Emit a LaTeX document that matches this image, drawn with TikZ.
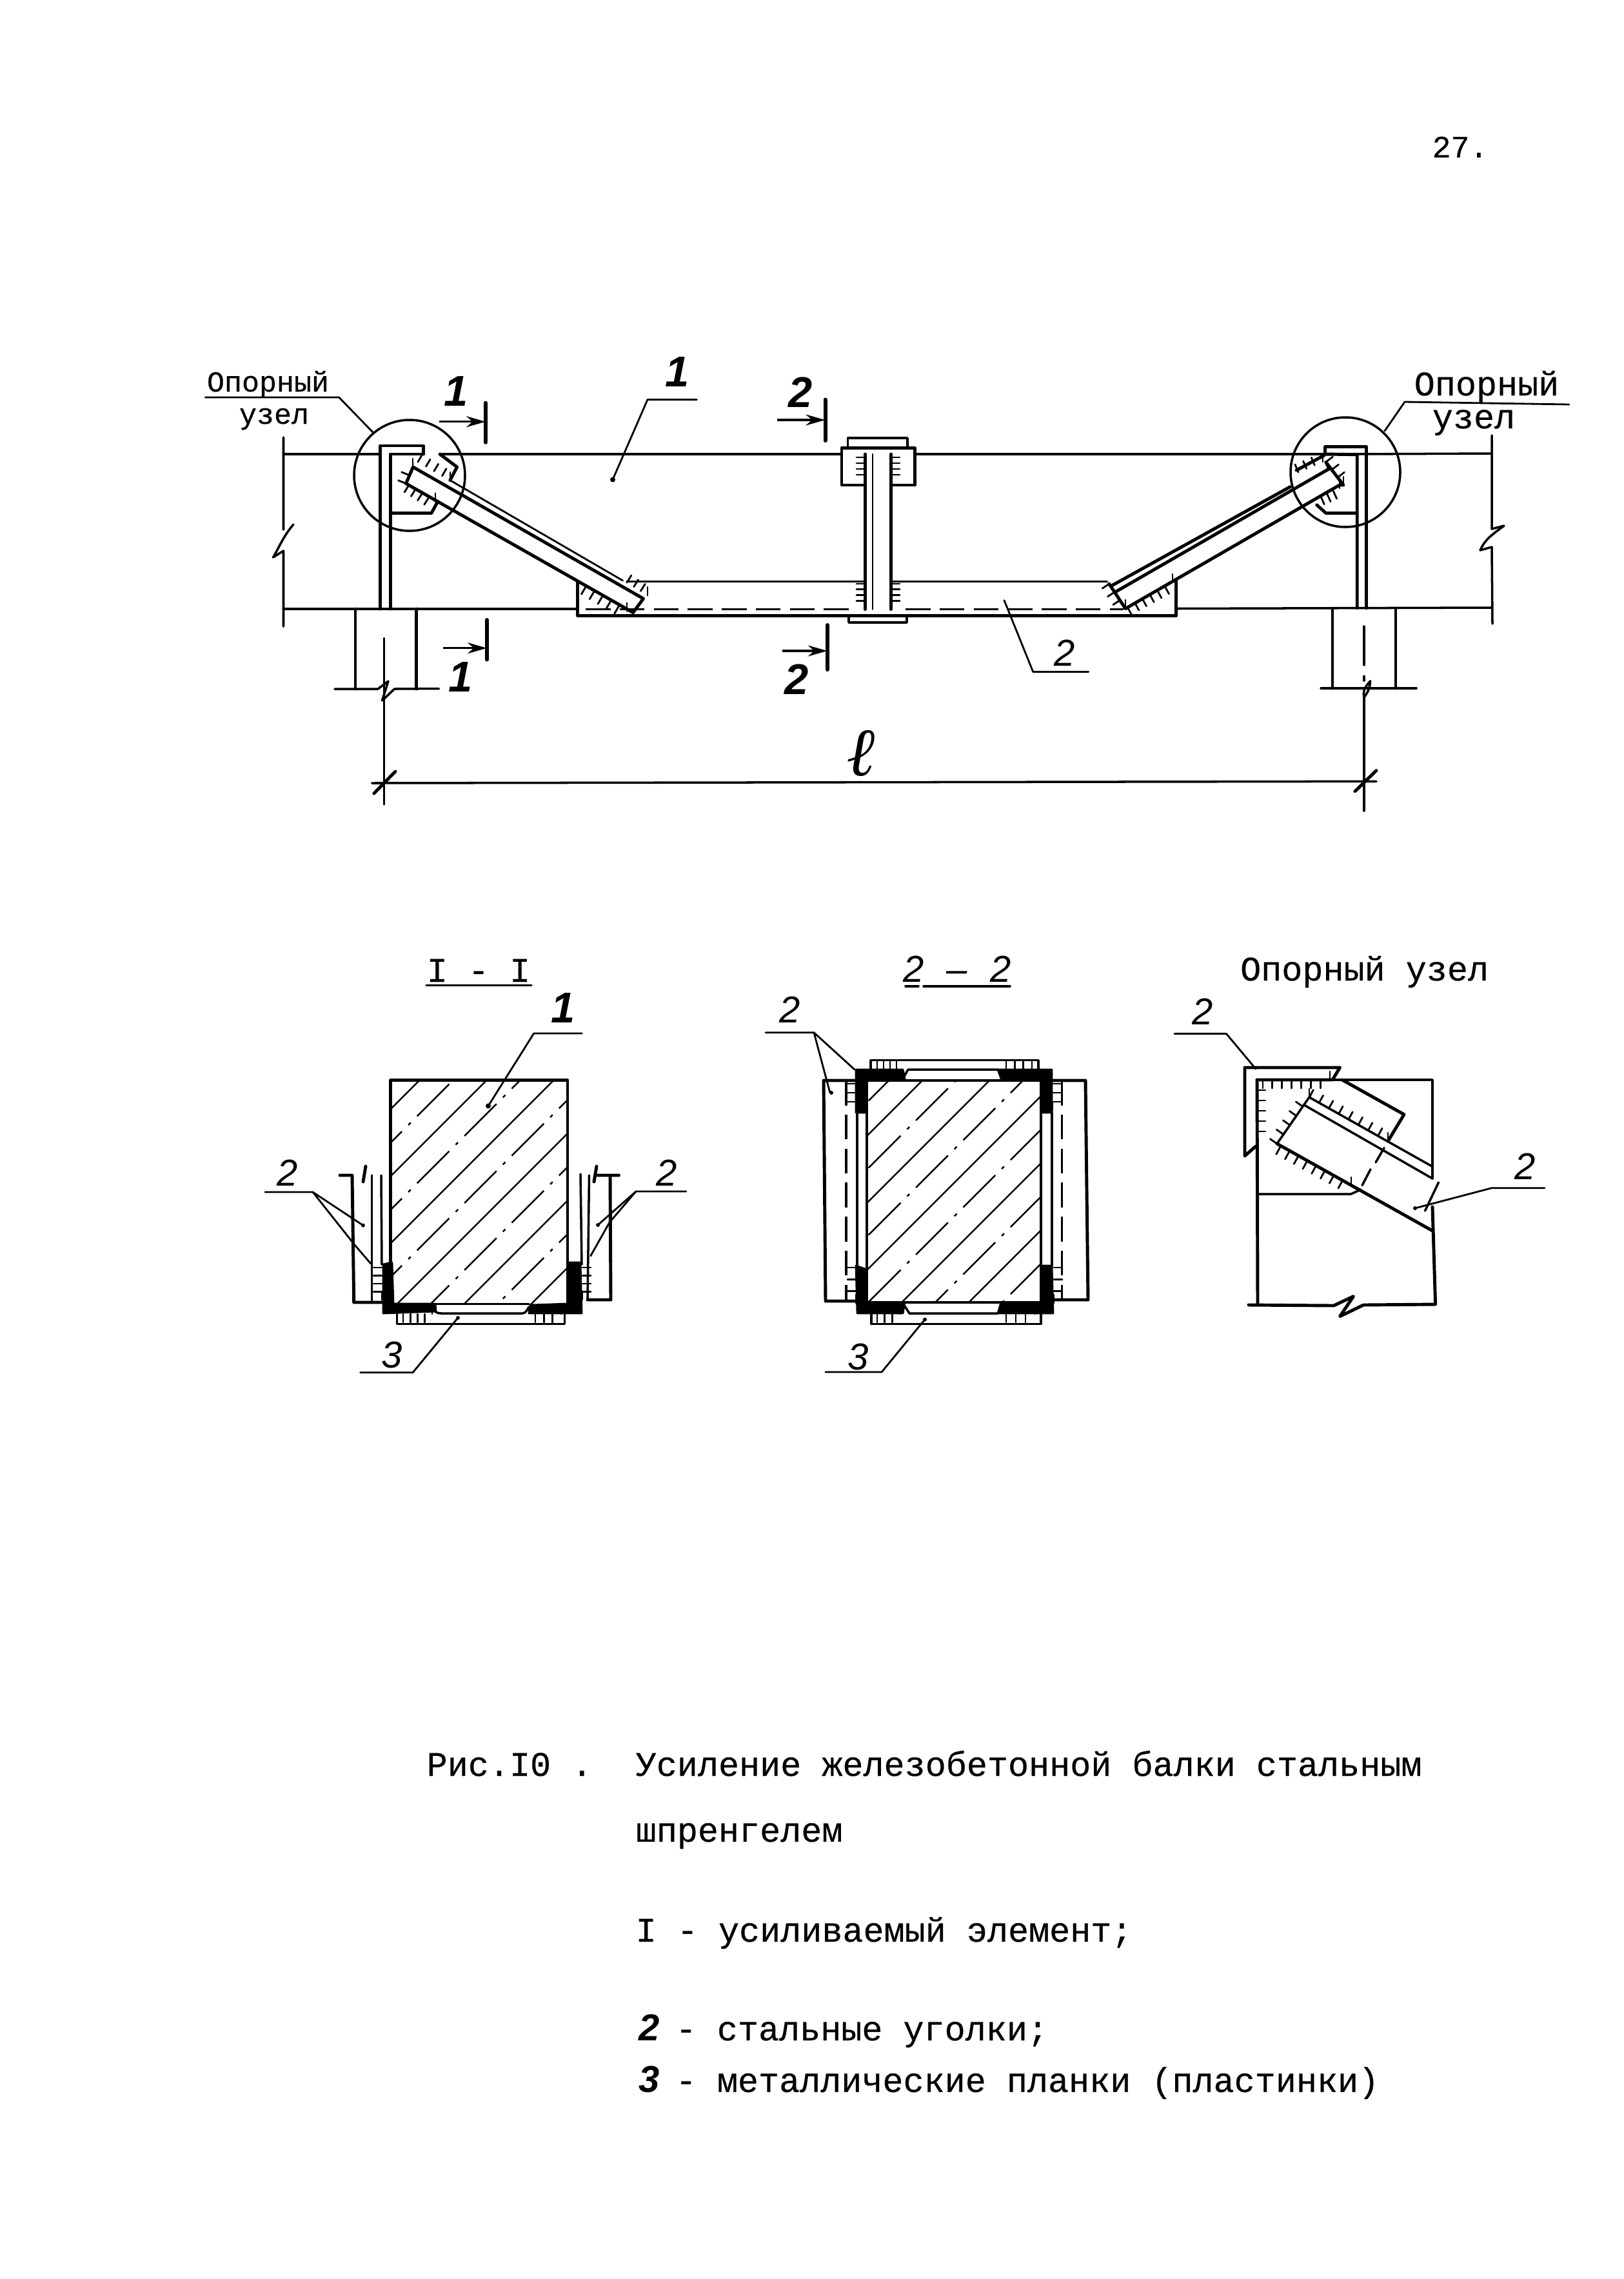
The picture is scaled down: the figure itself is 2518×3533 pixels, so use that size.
\documentclass[tikz,border=0pt]{standalone}
\usepackage{fontspec}
\usetikzlibrary{calc,arrows.meta}
\setmainfont{Liberation Sans}
\newfontfamily\twf[FakeBold=0.4]{Liberation Mono}
\newfontfamily\ellf{Liberation Serif}
\newcommand{\welds}[6]{%
  \foreach \wi in {0,...,#5}{%
    \pgfmathsetmacro\wt{\wi/#5}
    \draw[fine] ($(#1,#2)!\wt!(#3,#4)$) -- ($(#1,#2)!\wt!(#3,#4)!0.13cm!#6:(#3,#4)$);
  }%
}
\tikzset{
  base/.style={line width=1pt,line cap=round,line join=round},
  fine/.style={line width=0.8pt,line cap=round,line join=round},
  heavy/.style={line width=1.4pt,line cap=round,line join=round},
  bar/.style={line width=1.7pt,line cap=round},
  cut/.style={line width=1pt,-{Stealth[length=0.3cm,width=0.17cm]}},
  leader/.style={line width=0.8pt,line cap=round,line join=round},
  dashline/.style={line width=0.9pt,dash pattern=on 11pt off 4pt},
  hatchsolid/.style={line width=0.7pt},
  hatchdash/.style={line width=0.7pt,dash pattern=on 20pt off 4pt on 1.5pt off 4pt},
  weld/.style={fill=black,draw=black,line width=0.8pt,line join=round},
  dot/.style={fill=black},
  tw/.style={inner sep=0pt,anchor=base west,font=\twf\fontsize{15.2pt}{18pt}\selectfont},
  twc/.style={inner sep=0pt,anchor=base,font=\twf\fontsize{15.2pt}{18pt}\selectfont},
  tws/.style={inner sep=0pt,anchor=base,font=\twf\fontsize{12.8pt}{15pt}\selectfont},
  hand/.style={inner sep=0pt,font=\bfseries\itshape\fontsize{19pt}{19pt}\selectfont},
  hands/.style={inner sep=0pt,font=\itshape\fontsize{16.5pt}{17pt}\selectfont},
}
\begin{document}
\begin{tikzpicture}[x=0.01cm,y=-0.01cm]
\useasboundingbox (0,0) rectangle (2518,3533);
\node[twc,font=\twf\fontsize{13.7pt}{16pt}\selectfont] (pagenum) at (2264,244) {27.};

% ---------- main elevation ----------
\draw[base] (439.5,704) -- (589,704);
\draw[base] (682,704) -- (1305,704);
\draw[base] (1418.6,704) -- (2054,704);
\draw[base] (2104,704) -- (2313,703);
\draw[base] (439.5,944) -- (895.5,944);
\draw[base] (1823.6,943.5) -- (2313,942);
% breaks
\draw[base] (439.5,678) -- (439.5,821) (455,813) .. controls (440,830) and (432,850) .. (423.5,864) -- (439.5,854) -- (439.5,971);
\draw[base] (2313,675) -- (2313,820) -- (2332,815) .. controls (2315,828) and (2303,835) .. (2295,853) -- (2313,848) -- (2314,967);
% circles
\draw[base] (635,737) circle[radius=86];
\draw[base] (2086,732) circle[radius=85];
% left end plate
\draw[heavy] (656.3,704) -- (656.3,691) -- (589.3,691) -- (589.3,944);
\draw[heavy] (656.3,704) -- (605.3,704) -- (605.3,944);
\draw[heavy] (605.3,795.5) -- (669,795.5) -- (678.6,777.6);
\draw[heavy] (682,704) -- (708.6,724) -- (697.8,744.5);
% left brace
\draw[heavy] (629.5,749.6) -- (981.6,949.6) -- (997.5,928) -- (640.4,724) -- cycle;
\draw[fine] (697.8,744.5) -- (965.6,900);
\welds{648}{716}{698}{745}{4}{90}
\welds{629.5}{749.6}{640}{724}{2}{90}
\welds{634}{752}{675}{777.6}{4}{-90}
\welds{908}{910}{972}{947.6}{5}{-90}
\welds{972}{903}{1004}{923}{3}{90}
% lower angle
\draw[heavy] (895.5,902.6) -- (895.5,954.7) -- (1823.6,954.7) -- (1823.6,900);
\draw[base] (972,901.6) -- (1341,901.6) (1382,901.6) -- (1716.5,901.6);
\draw[dashline] (908,944.5) -- (1322,944.5) (1404,944.5) -- (1742,944.5);
% centre post
\draw[heavy] (1341.4,704) -- (1341.4,944.5);
\draw[fine] (1353,704) -- (1353,944.5);
\draw[heavy] (1381.6,704) -- (1381.6,944.5);
\draw[heavy] (1341.4,752) -- (1305,752) -- (1305,694.5) -- (1418.6,694.5) -- (1418.6,752) -- (1381.6,752);
\draw[base] (1314.6,694.5) -- (1314.6,679) -- (1407,679) -- (1407,694.5);
\draw[base] (1316,954.7) -- (1316,965) -- (1406,965) -- (1406,954.7);
\welds{1341}{709}{1341}{745}{4}{-90}
\welds{1382}{709}{1382}{745}{4}{90}
\welds{1341}{905}{1341}{940}{4}{-90}
\welds{1382}{905}{1382}{940}{4}{90}
% right brace
\draw[heavy] (1719.6,905) -- (1745,943.5) -- (2076.8,752) -- (2083,752) -- (2055.8,716.4) -- (2061,726.6) -- (1730.5,917);
\draw[heavy] (1724,907.7) -- (2000.3,754.7);
\draw[heavy] (2010,729) -- (2053,706);
\welds{2013}{732}{2051}{716}{3}{90}
\welds{2056}{716}{2083}{752}{3}{90}
\welds{2048}{770}{2077}{757}{3}{-90}
\welds{1748}{941}{1818}{903}{6}{-90}
\welds{1720}{905}{1745}{943}{3}{-90}
% right end plate
\draw[heavy] (2054.5,704) -- (2054.5,692.4) -- (2118.3,692.4) -- (2118.3,942.5);
\draw[heavy] (2054.5,704) -- (2104.2,704.7) -- (2104.2,942.5);
\draw[heavy] (2041.7,782.8) -- (2055.8,795.5) -- (2102.3,795.5);
% supports
\draw[heavy] (551,944) -- (551,1068) (645.5,944) -- (645.5,1068);
\draw[base] (519,1068) -- (586,1068) -- (602,1056) -- (592.5,1086) -- (611.6,1068) -- (680.5,1067.5);
\draw[heavy] (2066,943) -- (2066,1067) (2164,943) -- (2164,1067);
\draw[base] (2048,1067) -- (2196,1067);
\draw[base] (2115,1081) .. controls (2112,1068) and (2120,1062) .. (2124.6,1055.7) .. controls (2124,1068) and (2120,1074) .. (2115,1081);
% axes and dimension
\draw[base] (595.7,989.4) -- (595.7,1247);
\draw[base,dash pattern=on 17pt off 5pt on 2pt off 5pt] (2115,971) -- (2115,1055);
\draw[base] (2115,1081) -- (2115,1257);
\draw[base] (576.6,1214) -- (2134,1211.3);
\draw[heavy] (579.8,1230) -- (613,1196);
\draw[heavy] (2101,1226.6) -- (2134,1194.5);
\node[inner sep=0pt,font=\ellf\bfseries\itshape\fontsize{30pt}{30pt}\selectfont] (ell) at (1337,1168) {ℓ};
% section marks
\draw[cut] (680.5,653.7) -- (753,653.7);
\draw[bar] (753,624.6) -- (753,685.8);
\draw[cut] (687,1004.7) -- (755,1004.7);
\draw[bar] (755,961) -- (755,1022.5);
\draw[cut] (1205,651) -- (1279.4,651);
\draw[bar] (1279.5,619.5) -- (1279.5,683);
\draw[cut] (1212.5,1009) -- (1282.8,1009);
\draw[bar] (1282.8,969) -- (1282.8,1038);
\node[hand] (m1a) at (707,607) {1};
\node[hand] (m1b) at (714,1050) {1};
\node[hand] (m2a) at (1241,608) {2};
\node[hand] (m2b) at (1235,1053) {2};
% labels
\node[hand] (beamnum) at (1050,577) {1};
\draw[leader] (1080.4,619.5) -- (1004,619.5) -- (950,743.5);
\fill[dot] (950,743.5) circle[radius=4];
\node[hands] (anglenum) at (1651,1012) {2};
\draw[leader] (1557,930.7) -- (1601.7,1041.4) -- (1687.8,1041.4);
\node[tws] (opl1) at (415.5,607) {Опорный};
\node[tws] (opl2) at (425,657) {узел};
\draw[leader] (318.3,616) -- (525.6,616) -- (578.5,670.5);
\node[twc] (opr1) at (2305,613) {Опорный};
\node[twc] (opr2) at (2285,664) {узел};
\draw[leader] (2147,668) -- (2178,623) -- (2433,627);

% ---------- section I-I ----------
\node[twc] (t11) at (742,1522) {I - I};
\draw[base] (661,1527.5) -- (824,1527.5);
\begin{scope}
\clip (605.4,1674.8) rectangle (880,2021.6);
\foreach \k [evaluate=\k as \c using 2325+52*\k] in {0,2,4,6,8,10}
  \draw[hatchsolid] (500,\c-500) -- (1000,\c-1000);
\foreach \k [evaluate=\k as \c using 2325+52*\k] in {1,3,5,7,9}
  \draw[hatchdash] (500,\c-500) -- (1000,\c-1000);
\end{scope}
\draw[heavy] (605.4,2021.6) -- (605.4,1674.8) -- (880,1674.8) -- (880,2021.6);
% left angle
\draw[heavy] (527,1822) -- (546,1822) -- (548.7,2019) -- (592,2019);
\draw[base] (576.4,1822) -- (576.4,2019);
\draw[base] (591,1822) -- (592,1960);
% right angle
\draw[base] (900,1820) -- (902,1960);
\draw[base] (913.5,1822) -- (911,2015);
\draw[heavy] (927,1822) -- (959.5,1822) (946,1822) -- (947,2015) -- (911,2015);
% welds
\draw[weld] (594,1960) -- (608,1957) -- (610,2021) -- (675,2021) -- (676,2033) -- (594,2036) -- cycle;
\draw[weld] (882,1957) -- (900,1957) -- (902,2036) -- (820,2036) -- (822,2023) -- (882,2021) -- cycle;
\draw[base] (675,2021.6) -- (820,2021.6);
\draw[base] (675,2033) .. controls (678,2036) and (682,2036) .. (685,2036) -- (810,2036) .. controls (815,2036) and (818,2030) .. (820,2026);
\draw[base] (615.7,2036) -- (615.7,2052.6) -- (875.5,2052.6) -- (875.5,2036);
\welds{625}{2037}{670}{2037}{4}{-90}
\welds{830}{2037}{870}{2037}{3}{-90}
\welds{592}{1965}{592}{2015}{4}{-90}
\welds{903}{1965}{903}{2015}{4}{90}
% labels
\node[hand] (s1) at (873,1562) {1};
\draw[leader] (902.3,1602) -- (827.7,1602) -- (757,1714.5);
\fill[dot] (757,1714.5) circle[radius=4];
\node[hands] (s2l) at (446,1818) {2};
\draw[leader] (411,1848) -- (485,1848) -- (563,1899.6);
\fill[dot] (563,1899.6) circle[radius=3];
\draw[leader] (485,1848) -- (550,1930) -- (575,1959);
\node[hands] (s2r) at (1034,1818) {2};
\draw[leader] (1064,1847) -- (986,1847) -- (927,1899);
\fill[dot] (927,1899) circle[radius=3];
\draw[leader] (986,1847) -- (945,1895) -- (915.7,1947);
\draw[heavy] (563,1832) -- (567,1808);
\draw[heavy] (921,1832) -- (925,1808);
\node[hands] (s3) at (608,2100) {3};
\draw[leader] (558.6,2127.8) -- (640,2127.8) -- (710,2043);
\fill[dot] (710,2043) circle[radius=3];

% ---------- section 2-2 ----------
\node[inner sep=0pt,anchor=base,font=\itshape\fontsize{16.5pt}{17pt}\selectfont] (t22) at (1484,1522) {2\hspace{10pt}--\hspace{10pt}2};
\draw[base] (1404,1529) -- (1424,1529) (1432,1529) -- (1566,1529);
\begin{scope}
\clip (1344,1675) rectangle (1614,2019);
\foreach \k [evaluate=\k as \c using 3053+52*\k] in {1,3,5,7,9}
  \draw[hatchsolid] (1200,\c-1200) -- (1800,\c-1800);
\foreach \k [evaluate=\k as \c using 3053+52*\k] in {0,2,4,6,8,10}
  \draw[hatchdash] (1200,\c-1200) -- (1800,\c-1800);
\end{scope}
\draw[heavy] (1344,1675) rectangle (1614,2019);
% welds
\draw[weld] (1327,1658) -- (1400,1658) -- (1403,1672) -- (1344,1675) -- (1344,1725) -- (1327,1725) -- cycle;
\draw[weld] (1547,1658) -- (1631,1658) -- (1631,1725) -- (1616,1725) -- (1614,1675) -- (1552,1672) -- cycle;
\draw[weld] (1327,1962) -- (1344,1968) -- (1344,2019) -- (1403,2019) -- (1400,2036) -- (1329,2036) -- cycle;
\draw[weld] (1616,1962) -- (1631,1962) -- (1633,2036) -- (1547,2036) -- (1552,2019) -- (1614,2019) -- cycle;
\draw[base] (1400,1672) -- (1408,1658) -- (1547,1658);
\draw[base] (1403,2025) -- (1410,2036) -- (1547,2036);
\draw[base] (1329,1725) -- (1329,1962);
\draw[base] (1631,1725) -- (1631,1962);
% plates
\draw[base] (1350,1658) -- (1350,1643.7) -- (1610,1643.7) -- (1610,1658);
\draw[base] (1351,2036) -- (1351,2052.6) -- (1614,2052.6) -- (1614,2036);
\welds{1360}{1658}{1390}{1658}{3}{90}
\welds{1560}{1658}{1600}{1658}{3}{90}
\welds{1360}{2037}{1395}{2037}{3}{-90}
\welds{1560}{2037}{1605}{2037}{3}{-90}
\welds{1327}{1680}{1327}{1722}{3}{-90}
\welds{1327}{1965}{1327}{2020}{3}{-90}
\welds{1632}{1680}{1632}{1722}{3}{90}
\welds{1634}{1965}{1634}{2020}{3}{90}
% angles
\draw[heavy] (1325,1675) -- (1277,1675) -- (1280,2017) -- (1329,2017);
\draw[dashline,line width=1.1pt] (1311.6,1675) -- (1311.6,2017);
\draw[heavy] (1631,1675) -- (1683,1675) -- (1687,2015) -- (1635,2015);
\draw[dashline,line width=1.1pt] (1646.5,1675) -- (1646.5,2015);
% labels
\node[hands] (q2) at (1225,1565) {2};
\draw[leader] (1187,1600.7) -- (1262,1600.7) -- (1325,1658);
\draw[leader] (1262,1600.7) -- (1281,1672) -- (1287,1694);
\fill[dot] (1289,1694) circle[radius=3];
\node[hands] (q3) at (1331,2103) {3};
\draw[leader] (1280,2127) -- (1367,2127) -- (1434,2045.5);
\fill[dot] (1434,2045.5) circle[radius=3];

% ---------- support node detail ----------
\node[twc] (t3) at (2115.6,1520) {Опорный узел};
\draw[heavy] (1947,1777) -- (1930,1792) -- (1930,1655) -- (2077.5,1655) -- (2066,1674) -- (1949,1674);
\draw[heavy] (1949,1674) -- (1950,2023);
\draw[base] (1950,1851) -- (2094.7,1851) -- (2110,1844);
\draw[base] (2066,1674) -- (2221,1674) -- (2221,1827);
\draw[heavy] (2081,1674) -- (2177,1727.7) -- (2152,1769);
\draw[base] (2029.6,1700.8) -- (2221,1808.5);
\draw[base] (2022,1713) -- (2221,1827);
\draw[base] (2032,1698) -- (1980,1773);
\draw[heavy] (1980,1773) -- (2221,1908);
\draw[heavy] (2221,1871) -- (2225.6,2022) -- (2114,2023) -- (2077.5,2040.7) -- (2098.5,2009.6) -- (2068,2024) -- (1936,2023);
\draw[base] (2230.5,1833) -- (2209.5,1877);
\draw[base] (2146,1779.5) -- (2133,1802) (2125,1812.7) -- (2112,1837.6);
\welds{1958}{1674}{2062}{1674}{7}{-90}
\welds{1949}{1690}{1949}{1770}{5}{90}
\welds{2030}{1701}{2152}{1769}{8}{90}
\welds{1980}{1773}{2030}{1701}{5}{90}
\welds{1985}{1778}{2095}{1838}{8}{-90}
\node[hands] (n2a) at (1865,1568) {2};
\draw[leader] (1821,1602.5) -- (1901.4,1602.5) -- (1947,1657);
\node[hands] (n2b) at (2364.5,1808.5) {2};
\draw[leader] (2395,1841.7) -- (2312.8,1841.7) -- (2194,1873);
\fill[dot] (2194,1873) circle[radius=3];

% ---------- caption ----------
\node[tw] (fig) at (661,2753) {Рис.I0 .};
\node[tw] (c1) at (985,2753) {Усиление железобетонной балки стальным};
\node[tw] (c2) at (985,2855) {шпренгелем};
\node[tw] (c3) at (985,3010) {I - усиливаемый элемент;};
\node[hand,anchor=base west,font=\bfseries\itshape\fontsize{16.5pt}{17pt}\selectfont] (c4n) at (990,3163) {2};
\node[tw] (c4) at (1047,3163) {- стальные уголки;};
\node[hand,anchor=base west,font=\bfseries\itshape\fontsize{16.5pt}{17pt}\selectfont] (c5n) at (990,3243) {3};
\node[tw] (c5) at (1047,3243) {- металлические планки (пластинки)};
\end{tikzpicture}
\end{document}
